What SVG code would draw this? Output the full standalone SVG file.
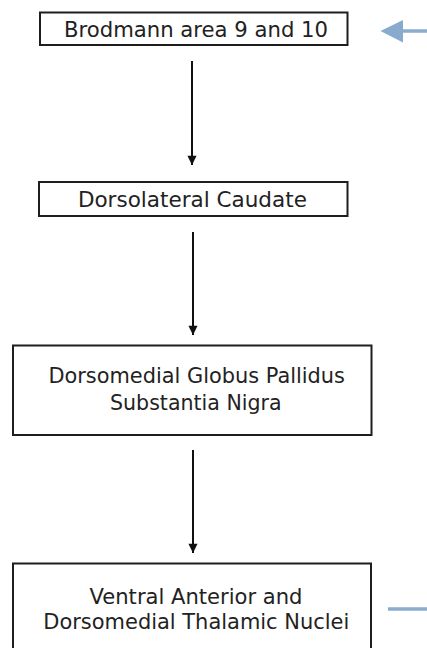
<svg xmlns="http://www.w3.org/2000/svg" width="427" height="648" viewBox="0 0 427 648">
<defs>
<style>
.box{fill:#fff;stroke:#1e1e1e;stroke-width:2}
.t{font-family:"DejaVu Sans",sans-serif;font-size:22px;fill:#222;text-anchor:middle}
.c{stroke:#111;stroke-width:2;fill:none;marker-end:url(#ah)}
.blue{stroke:#8aaccf;stroke-width:3.5;fill:none}
</style>
<marker id="ah" viewBox="0 0 10 12" refX="10" refY="6" markerWidth="11" markerHeight="11" markerUnits="userSpaceOnUse" orient="auto">
<path d="M0,1 L10,6 L0,11 Z" fill="#111"/>
</marker>
</defs>
<rect width="427" height="648" fill="#fff"/>
<g id="connectors">
<line class="c" x1="192" y1="61" x2="192" y2="165"/>
<line class="c" x1="193" y1="232" x2="193" y2="335"/>
<line class="c" x1="193" y1="450" x2="193" y2="553"/>
<line class="blue" x1="402" y1="31" x2="427" y2="31"/>
<polygon points="380.5,31 403,20 403,42.5" fill="#88aacd"/>
<line class="blue" x1="388" y1="609" x2="427" y2="609"/>
</g>
<g id="n1">
<rect class="box" x="40" y="12.5" width="307.5" height="32.5"/>
<text class="t" x="196" y="37" textLength="264" lengthAdjust="spacingAndGlyphs">Brodmann area 9 and 10</text>
</g>
<g id="n2">
<rect class="box" x="39" y="182" width="308.5" height="34"/>
<text class="t" x="192.4" y="207" textLength="229" lengthAdjust="spacingAndGlyphs">Dorsolateral Caudate</text>
</g>
<g id="n3">
<rect class="box" x="13" y="345.5" width="358.5" height="89.5"/>
<text class="t" x="196.7" y="382.5" textLength="296.5" lengthAdjust="spacingAndGlyphs">Dorsomedial Globus Pallidus</text>
<text class="t" x="195.8" y="409.5" textLength="171.5" lengthAdjust="spacingAndGlyphs">Substantia Nigra</text>
</g>
<g id="n4">
<rect class="box" x="13" y="563.5" width="358" height="100"/>
<text class="t" x="196" y="603.5" textLength="213" lengthAdjust="spacingAndGlyphs">Ventral Anterior and</text>
<text class="t" x="196.3" y="628.5" textLength="306" lengthAdjust="spacingAndGlyphs">Dorsomedial Thalamic Nuclei</text>
</g>
</svg>
